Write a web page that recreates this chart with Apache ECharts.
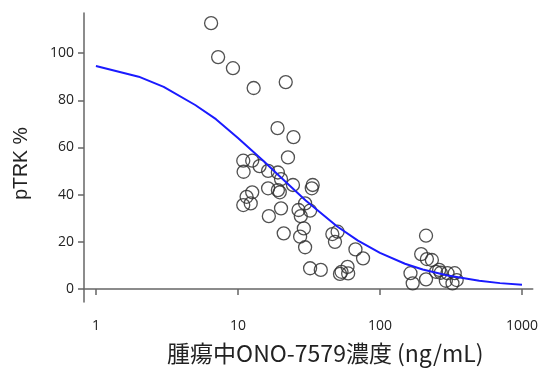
<!DOCTYPE html>
<html>
<head>
<meta charset="utf-8">
<style>
html,body{margin:0;padding:0;background:#fff;}
#main{width:541px;height:370px;}
</style>
</head>
<body>
<div id="main"></div>
<script src="https://cdn.jsdelivr.net/npm/echarts@6/dist/echarts.min.js"></script>
<script type="text/javascript">
// 観測値 [濃度 ng/mL, pTRK %]
var obsConc = [6.47,7.25,9.22,12.9,21.7,19.0,24.6,22.5,
    10.9,12.6,10.96,14.2,16.3,19.1,20.1,24.4,33.6,33.1,16.3,19.1,19.7,12.6,11.5,12.3,10.9,
    29.7,26.7,20.1,16.5,32.2,27.7,29.1,27.4,21.0,29.7,32.2,38.3,
    46.2,50.3,48.2,67.2,76.0,53.6,59.1,59.7,52.3,
    211,195,214,232,164,170,211,261,268,299,291,336,347,324,248];
var obsPtrk = [112.7,98.3,93.6,85.2,87.7,68.2,64.4,55.8,
    54.4,54.4,49.7,52.1,50.1,49.4,46.6,44.1,44.1,42.7,42.7,41.9,41.0,41.0,39.1,36.3,35.6,
    36.3,33.5,34.2,30.9,33.2,30.9,25.7,22.2,23.6,17.7,8.8,8.1,
    23.3,24.3,20.0,16.8,13.0,7.3,9.4,6.6,6.4,
    22.6,14.8,12.7,12.3,6.7,2.4,4.1,8.1,6.9,6.7,3.5,6.7,3.8,2.4,7.3];

// fitted curve
var fitConc = [1,2,3,5,7,10,15,20,30,50,70,100,150,200,300,500,700,1000];
var fitPtrk = [94.5,90,85.7,78,72,64,54.5,47.4,37.5,26.5,20.5,15.3,10.7,8.3,5.7,3.5,2.5,1.8];

var xTicks = [1,10,100,1000];
var yTicks = [0,20,40,60,80,100];

var myChart = echarts.init(document.getElementById('main'));

var scatterData = [];
for(var i = 0;i<obsConc.length;i++){
    scatterData.push([obsConc[i], obsPtrk[i]]);
}
var lineData = [];
for(var i = 0;i<fitConc.length;i++){
    lineData.push([fitConc[i], fitPtrk[i]]);
}

var axisCol = '#666';
var txtCol = '#222';

option = {
    animation: false,
    grid: {left: 84, right: 5, top: 13, bottom: 68},
    xAxis: {
        type: 'log',
        logBase: 10,
        min: 0.824,
        max: 1190,
        name: '腫瘍中ONO-7579濃度 (ng/mL)',
        nameLocation: 'middle',
        nameGap: 40,
        nameTextStyle: {fontSize: 23, color: txtCol, fontFamily: 'Noto Sans CJK JP', padding: [0,0,0,34]},
        axisLine: {show: true, lineStyle: {color: axisCol, width: 1.5}},
        axisTick: {show: true, length: 6, lineStyle: {color: axisCol, width: 1.5}, customValues: xTicks},
        axisLabel: {fontSize: 14, color: txtCol, margin: 17, fontFamily: 'Open Sans', customValues: xTicks,
            formatter: function(v){ return String(Math.round(v)); }},
        splitLine: {show: false}
    },
    yAxis: {
        type: 'value',
        min: -5.5,
        max: 117,
        name: 'pTRK %',
        nameLocation: 'middle',
        nameGap: 52,
        nameTextStyle: {fontSize: 19.5, color: txtCol, fontFamily: 'Liberation Sans', padding: [0,12,0,0]},
        axisLine: {show: true, lineStyle: {color: axisCol, width: 1.5}},
        axisTick: {show: true, length: 6, lineStyle: {color: axisCol, width: 1.5}, customValues: yTicks},
        axisLabel: {fontSize: 14, color: txtCol, margin: 10, fontFamily: 'Open Sans', customValues: yTicks},
        splitLine: {show: false}
    },
    series: [
        {
            type: 'scatter',
            data: scatterData,
            symbol: 'circle',
            symbolSize: 13,
            itemStyle: {color: 'rgba(0,0,0,0)', borderColor: '#333', borderWidth: 1.3, opacity: 0.85}
        },
        {
            type: 'line',
            data: lineData,
            showSymbol: false,
            smooth: false,
            lineStyle: {color: '#1a1aff', width: 2}
        }
    ]
};
myChart.setOption(option);
</script>
</body>
</html>
